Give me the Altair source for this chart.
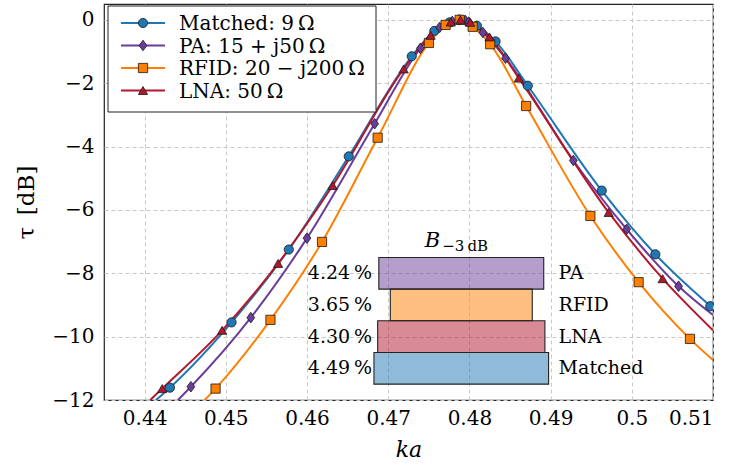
import altair as alt
import pandas as pd

# ---- transmission curves tau(ka) [dB], marker samples per load ----
series_names = ["Matched", "PA", "RFID", "LNA"]
legend_labels = ["Matched: 9\u2009Ω", "PA: 15 + j50\u2009Ω", "RFID: 20 − j200\u2009Ω", "LNA: 50\u2009Ω"]
colors = ["#1f77b4", "#6a3d9a", "#ff7f00", "#b2182b"]
thin_diamond = "M0,-1.15L0.85,0L0,1.15L-0.85,0Z"
shapes = ["circle", thin_diamond, "square", "triangle-up"]

matched_ka = [0.44312, 0.45071, 0.45776, 0.46514, 0.4729, 0.47568, 0.47756, 0.4789, 0.48092, 0.48322, 0.48719, 0.4963, 0.5029, 0.50966]
matched_tau = [-11.61, -9.55, -7.25, -4.31, -1.15, -0.35, -0.08, 0.0, -0.19, -0.68, -2.08, -5.39, -7.40, -9.04]

pa_ka = [0.4457, 0.45308, 0.4600, 0.46833, 0.47396, 0.47633, 0.47789, 0.4787, 0.4795, 0.47993, 0.48166, 0.48445, 0.4928, 0.49937, 0.50576]
pa_tau = [-11.58, -9.40, -6.89, -3.28, -0.90, -0.24, -0.05, 0.0, -0.02, -0.07, -0.40, -1.21, -4.44, -6.61, -8.41]

rfid_ka = [0.44874, 0.4555, 0.46185, 0.4687, 0.47501, 0.47707, 0.4788, 0.4804, 0.48256, 0.48699, 0.4949, 0.50084, 0.50716]
rfid_tau = [-11.64, -9.47, -7.01, -3.72, -0.73, -0.16, 0.0, -0.22, -0.77, -2.72, -6.19, -8.28, -10.07]

lna_ka = [0.44217, 0.44955, 0.45644, 0.46317, 0.4719, 0.47522, 0.4777, 0.4789, 0.4801, 0.48248, 0.48608, 0.49715, 0.50380]
lna_tau = [-11.64, -9.80, -7.69, -5.23, -1.55, -0.49, -0.07, 0.0, -0.08, -0.54, -1.84, -6.08, -8.17]

# where each curve leaves the plotting window (left: bottom edge, right: right edge)
edge_left_ka = {"Matched": 0.4414, "PA": 0.4441, "RFID": 0.4474, "LNA": 0.4407}
edge_left_tau = {"Matched": -12.0, "PA": -12.0, "RFID": -12.0, "LNA": -12.0}
edge_right_ka = {"Matched": 0.51, "PA": 0.51, "RFID": 0.51, "LNA": 0.51}
edge_right_tau = {"Matched": -9.12, "PA": -9.32, "RFID": -10.74, "LNA": -9.80}

# ---- -3 dB bandwidth inset ----
bw_names = ["PA", "RFID", "LNA", "Matched"]
bw_percent = [4.24, 3.65, 4.30, 4.49]
KA0 = 0.479  # resonance centre

samples = {
    "Matched": (matched_ka, matched_tau),
    "PA": (pa_ka, pa_tau),
    "RFID": (rfid_ka, rfid_tau),
    "LNA": (lna_ka, lna_tau),
}

marker_rows, line_rows = [], []
for name, (kas, taus) in samples.items():
    for k, t in zip(kas, taus):
        marker_rows.append({"series": name, "ka": k, "tau": t})
    pts = [(edge_left_ka[name], edge_left_tau[name])] + list(zip(kas, taus)) + [(edge_right_ka[name], edge_right_tau[name])]
    for k, t in sorted(pts):
        line_rows.append({"series": name, "ka": k, "tau": t})
markers = pd.DataFrame(marker_rows)
lines = pd.DataFrame(line_rows)

bw_max = max(bw_percent)
bars = pd.DataFrame({"name": bw_names, "bw": bw_percent})
bars["row"] = [-8 - i for i in range(len(bw_names))]
bars["ka"] = KA0 * (1 - bars["bw"] / 200)
bars["ka2"] = KA0 * (1 + bars["bw"] / 200)
bars["tau"] = bars["row"] + 0.5
bars["tau2"] = bars["row"] - 0.5
bars["pct"] = bars["bw"].map(lambda v: f"{v:.2f}\u2009%")
bars["pct_x"] = KA0 * (1 - bw_max / 200)
bars["name_x"] = KA0 * (1 + bw_max / 200)

FONT = "DejaVu Serif"
xs = alt.Scale(domain=[0.435, 0.51], nice=False, zero=False)
ys = alt.Scale(domain=[-12, 0.5], nice=False, zero=False)
cs = alt.Scale(domain=series_names, range=colors)
ss = alt.Scale(domain=series_names, range=shapes)

x_axis = alt.Axis(values=[0.44, 0.45, 0.46, 0.47, 0.48, 0.49, 0.5, 0.51], format="~g",
                  title="ka", titleFontStyle="italic", titleFontWeight="normal",
                  titleFontSize=22, titlePadding=11, labelPadding=8)
y_axis = alt.Axis(values=list(range(-12, 1, 2)), title="τ\u2002[dB]", titleFontWeight="normal",
                  titleFontSize=23, titlePadding=13, labelPadding=10)


def X(field):
    return alt.X(field, scale=xs, axis=x_axis)


def Y(field):
    return alt.Y(field, scale=ys, axis=y_axis)


curves = alt.Chart(lines).mark_line(interpolate="monotone", clip=True, strokeWidth=2).encode(
    x=X("ka:Q"),
    y=Y("tau:Q"),
    color=alt.Color("series:N", scale=cs, legend=None),
    detail="series:N",
)

points = alt.Chart(markers).mark_point(filled=True, size=85, stroke="#1a1a1a", strokeWidth=0.8,
                                       opacity=1, clip=True).encode(
    x=X("ka:Q"),
    y=Y("tau:Q"),
    fill=alt.Fill("series:N", scale=cs, legend=None),
    shape=alt.Shape("series:N", scale=ss, legend=None),
)

bw_bars = alt.Chart(bars).mark_rect(fillOpacity=0.5, stroke="#222222", strokeWidth=1.1).encode(
    x=X("ka:Q"),
    x2="ka2:Q",
    y=Y("tau:Q"),
    y2="tau2:Q",
    fill=alt.Fill("name:N", scale=cs, legend=None),
)

pct_text = alt.Chart(bars).mark_text(align="right", baseline="middle", dx=-2, font=FONT,
                                     fontSize=19, color="black").encode(
    x=X("pct_x:Q"),
    y=Y("row:Q"),
    text="pct:N",
)

name_text = alt.Chart(bars).mark_text(align="left", baseline="middle", dx=10, font=FONT,
                                      fontSize=19, color="black").encode(
    x=X("name_x:Q"),
    y=Y("row:Q"),
    text="name:N",
)

title_df = pd.DataFrame({"ka": [KA0], "tau": [-7.5]})
title_b = alt.Chart(title_df).mark_text(align="right", baseline="alphabetic", dx=-21, dy=-10,
                                        font=FONT, fontSize=21, fontStyle="italic",
                                        color="black").encode(
    x=X("ka:Q"), y=Y("tau:Q"),
    text=alt.value("B"),
)
title_sub = alt.Chart(title_df).mark_text(align="left", baseline="alphabetic", dx=-19, dy=-6,
                                          font=FONT, fontSize=15, color="black").encode(
    x=X("ka:Q"), y=Y("tau:Q"),
    text=alt.value("−3\u2009dB"),
)

# ---- legend box drawn in pixel space of the plot area ----
one = pd.DataFrame({"k": [0]})
legend_layers = [
    alt.Chart(one).mark_rect(fill="white", stroke="#222222", strokeWidth=1).encode(
        x=alt.value(4), x2=alt.value(272), y=alt.value(2), y2=alt.value(108))
]
row_y = [19, 41.5, 64, 86.5]
for i, name in enumerate(series_names):
    legend_layers.append(alt.Chart(one).mark_rule(strokeWidth=2, color=colors[i]).encode(
        x=alt.value(17), x2=alt.value(61), y=alt.value(row_y[i])))
    legend_layers.append(alt.Chart(one).mark_point(filled=True, size=85, stroke="#1a1a1a",
                                                   strokeWidth=0.8, opacity=1).encode(
        x=alt.value(39), y=alt.value(row_y[i]), fill=alt.value(colors[i]),
        shape=alt.value(shapes[i])))
    legend_layers.append(alt.Chart(one).mark_text(align="left", baseline="middle", font=FONT,
                                                  fontSize=20, color="black").encode(
        x=alt.value(75), y=alt.value(row_y[i] + 1), text=alt.value(legend_labels[i])))

chart = alt.layer(curves, bw_bars, points, pct_text, name_text, title_b, title_sub,
                  *legend_layers).properties(
    width=609, height=396,
    autosize=alt.AutoSizeParams(type="none"),
    padding={"left": 104, "top": 4, "right": 24, "bottom": 66},
).configure_view(
    stroke="#222222", strokeWidth=1.2,
).configure_axis(
    labelFont=FONT, titleFont=FONT, labelFontSize=20,
    labelColor="black", titleColor="black",
    grid=True, gridColor="#c8c8c8", gridDash=[4, 3], gridWidth=1,
    ticks=False, domain=False,
)

chart.save("out.html", embed_options={"renderer": "svg", "actions": False})
